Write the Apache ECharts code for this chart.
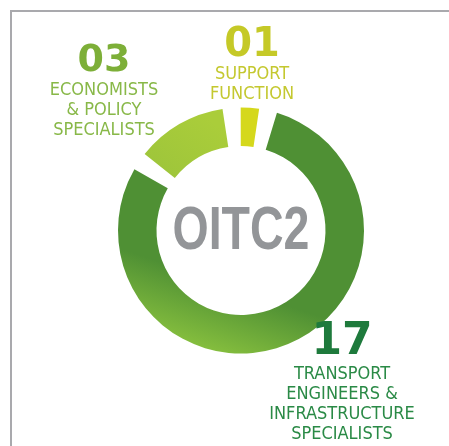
<!DOCTYPE html>
<html>
<head>
<meta charset="utf-8">
<script src="https://cdn.jsdelivr.net/npm/echarts@6/dist/echarts.min.js"></script>
<style>
  html, body { margin: 0; padding: 0; background: #ffffff; }
  #chart { width: 449px; height: 446px; }
</style>
</head>
<body>
<div id="chart"></div>
<script>
// Team composition of the unit, one ring slice per group
const groups = [
  'SUPPORT\nFUNCTION',
  'TRANSPORT\nENGINEERS &\nINFRASTRUCTURE\nSPECIALISTS',
  'ECONOMISTS\n& POLICY\nSPECIALISTS'
];
const headcount = [1, 17, 3];
const centreTitle = 'OITC2';

// Styling per group (same order as the data)
const numberColors = ['#c5c927', '#1e7a3c', '#7daf38'];
const textColors = ['#c4c82f', '#2a8a46', '#88b848'];
const numberSizes = [40, 44, 38];
const numberLineHeights = [36, 42, 37];
const labelAnchors = [[252, 28], [342, 322], [104, 43]];

const chart = echarts.init(document.getElementById('chart'), null, { renderer: 'canvas' });

const sliceColors = [
  '#d5d81c',
  new echarts.graphic.LinearGradient(0.3, 1, 0.4, 0.7, [
    { offset: 0, color: '#8cc43f' },
    { offset: 1, color: '#4f9034' }
  ]),
  new echarts.graphic.LinearGradient(0, 1, 0.6, 0, [
    { offset: 0, color: '#9cc43b' },
    { offset: 1, color: '#aacd3a' }
  ])
];

const rich = {};
groups.forEach((g, i) => {
  rich['n' + i] = {
    fontFamily: '"DejaVu Sans", sans-serif',
    fontWeight: 'bold',
    fontSize: numberSizes[i],
    lineHeight: numberLineHeights[i],
    color: numberColors[i],
    align: 'center'
  };
  rich['t' + i] = {
    fontFamily: '"DejaVu Sans Condensed", sans-serif',
    fontSize: 18,
    lineHeight: 20,
    color: textColors[i],
    align: 'center'
  };
});

const pad2 = v => (v < 10 ? '0' : '') + v;

chart.setOption({
  animation: false,
  backgroundColor: '#ffffff',
  graphic: [
    {
      type: 'polyline',
      shape: { points: [[11, 446], [11, 11], [449, 11]] },
      style: { stroke: '#a9a9ad', lineWidth: 2, fill: null },
      silent: true
    },
    {
      type: 'text',
      x: 241,
      y: 232,
      scaleX: 0.75,
      style: {
        text: centreTitle,
        font: 'bold 62px "Liberation Sans", Arial, sans-serif',
        fill: '#939598',
        textAlign: 'center',
        textVerticalAlign: 'middle'
      },
      silent: true
    }
  ],
  series: [{
    type: 'pie',
    center: [241, 230.5],
    radius: [84.5, 123],
    startAngle: 94.4,
    clockwise: true,
    padAngle: 8.5,
    avoidLabelOverlap: false,
    silent: true,
    data: headcount.map((v, i) => ({
      value: v,
      name: groups[i],
      itemStyle: { color: sliceColors[i] }
    })),
    label: {
      show: true,
      position: 'outside',
      formatter: p => '{n' + p.dataIndex + '|' + pad2(p.value) + '}\n{t' + p.dataIndex + '|' + p.name + '}',
      rich: rich
    },
    labelLine: { show: false },
    labelLayout: p => ({
      x: labelAnchors[p.dataIndex][0],
      y: labelAnchors[p.dataIndex][1],
      align: 'center',
      verticalAlign: 'top'
    })
  }]
});
</script>
</body>
</html>
